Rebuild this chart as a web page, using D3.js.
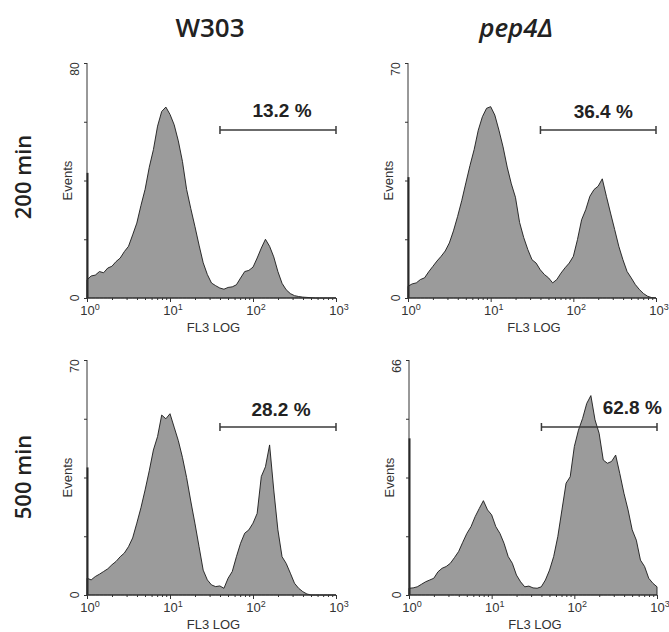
<!DOCTYPE html>
<html>
<head>
<meta charset="utf-8">
<script src="https://cdnjs.cloudflare.com/ajax/libs/d3/7.8.5/d3.min.js"></script>
<style>
  body { margin: 0; background: #fff; }
  svg { display: block; }
</style>
</head>
<body>
<svg id="chart" width="669" height="632"></svg>
<script>
// strains (columns) and times (rows)
const strains = ["W303", "pep4Δ"];
const times = ["200 min", "500 min"];

// histogram channels: 61 bins, log10 step 0.05 from 10^0 to 10^3
const channels = d3.range(61).map(i => Math.pow(10, i * 0.05));

// events per bin
const w303_200 = [6.2, 7.5, 7.8, 9.0, 8.6, 10.2, 10.8, 12.4, 13.6, 15.8, 17.6, 21.5, 25.5, 31.5, 37.0, 44.5, 50.5, 58.5, 63.5, 65.0,
  62.5, 59.0, 53.5, 46.5, 37.0, 30.5, 24.4, 18.0, 12.0, 8.0, 5.1, 4.2, 3.4, 3.0, 3.6, 3.8, 4.5, 6.8, 9.0, 9.4,
  10.5, 13.6, 17.0, 20.0, 17.6, 14.0, 9.0, 5.0, 2.8, 1.5, 0.8, 0.5, 0.3, 0.2, 0.1, 0, 0, 0, 0, 0, 0];
const pep4_200 = [3.5, 4.2, 4.5, 5.5, 6.0, 7.8, 9.4, 11.0, 12.4, 14.0, 16.4, 20.0, 24.3, 29.0, 34.3, 39.5, 44.2, 50.0, 54.0, 56.5,
  57.0, 54.5, 50.0, 45.0, 39.0, 34.0, 30.0, 22.5, 18.0, 14.4, 11.4, 10.4, 8.4, 7.0, 6.0, 4.5, 5.5, 7.4, 9.0, 10.4,
  12.4, 17.4, 23.3, 26.3, 30.3, 32.3, 33.3, 35.5, 30.3, 25.3, 20.4, 15.4, 11.4, 7.9, 6.0, 4.0, 2.5, 1.3, 0.5, 0.1, 0];
const w303_500 = [5.0, 4.5, 5.5, 6.2, 7.0, 7.8, 9.0, 10.0, 11.4, 12.5, 14.4, 17.0, 21.4, 26.0, 31.3, 37.0, 43.2, 47.2, 53.6, 52.5,
  54.0, 50.0, 46.0, 41.0, 35.0, 28.0, 21.4, 14.4, 7.4, 4.5, 3.0, 2.5, 2.7, 2.0, 5.0, 7.0, 11.4, 15.4, 18.4, 19.4,
  21.4, 24.3, 35.3, 38.2, 44.7, 31.3, 19.4, 11.4, 9.4, 6.5, 3.5, 2.0, 1.0, 0.3, 0, 0, 0, 0, 0, 0, 0];
const pep4_500 = [1.9, 2.0, 2.3, 3.0, 3.7, 4.2, 4.7, 6.5, 7.5, 8.0, 8.9, 10.5, 12.2, 14.8, 17.3, 19.2, 22.0, 24.3, 26.5, 23.9,
  22.5, 19.2, 17.3, 14.5, 10.8, 8.9, 5.6, 3.7, 2.3, 2.5, 2.0, 1.9, 2.3, 4.2, 7.0, 10.8, 16.4, 23.9, 31.4, 33.2,
  41.7, 46.3, 49.6, 53.8, 56.0, 49.2, 45.4, 37.9, 37.0, 37.5, 39.3, 34.1, 28.6, 23.9, 18.3, 15.4, 9.8, 8.0, 4.7, 3.3, 2.3];

// first-channel pile-up (events at 10^0)
const firstChannel = [42.6, 36.0, 38.0, 44.0];
// y-axis maximum printed on each panel
const yMax = [80, 70, 70, 66];
// gated fraction
const percents = [13.2, 36.4, 28.2, 62.8];
const gateFrom = 40, gateTo = 1000;
const xTicks = [1, 10, 100, 1000];
const xTickExp = ["0", "1", "2", "3"];

const series = [w303_200, pep4_200, w303_500, pep4_500];

// layout of each panel (pixel box of the plot area) and label nudges
const boxes = [
  { left: 87, right: 336, top: 63, bottom: 298, labelDx: 4, labelDy: -13 },
  { left: 408, right: 656, top: 63, bottom: 298, labelDx: 5, labelDy: -12 },
  { left: 87, right: 336, top: 360, bottom: 595, labelDx: 3, labelDy: -11 },
  { left: 409, right: 657, top: 360, bottom: 595, labelDx: 33, labelDy: -13 }
];

const svg = d3.select("#chart");
const axisCol = "#333";
const tickFont = "Liberation Sans, Arial, sans-serif";
const titleFont = "Open Sans, DejaVu Sans, sans-serif";

// column titles
svg.append("text").text(strains[0])
  .attr("x", 210).attr("y", 37)
  .attr("text-anchor", "middle")
  .attr("font-family", titleFont).attr("font-weight", 600)
  .attr("font-size", 26).attr("fill", "#222");
svg.append("text").text(strains[1])
  .attr("x", 516).attr("y", 37)
  .attr("text-anchor", "middle")
  .attr("font-family", titleFont).attr("font-weight", 600)
  .attr("font-style", "italic")
  .attr("font-size", 26).attr("fill", "#222");

// row titles
[177, 477].forEach((cy, i) => {
  svg.append("text").text(times[i])
    .attr("transform", `translate(31,${cy}) rotate(-90)`)
    .attr("text-anchor", "middle")
    .attr("font-family", titleFont).attr("font-weight", 600)
    .attr("font-size", 22).attr("fill", "#222");
});

series.forEach((vals, p) => {
  const b = boxes[p];
  const g = svg.append("g");

  const x = d3.scaleLog().domain([1, 1000]).range([b.left, b.right]);
  const y = d3.scaleLinear().domain([0, yMax[p]]).range([b.bottom, b.top]);

  const pts = channels.map((c, i) => [c, vals[i]]);

  // histogram
  g.append("path")
    .datum(pts)
    .attr("fill", "#9b9b9b")
    .attr("stroke", "#1a1a1a")
    .attr("stroke-width", 0.9)
    .attr("stroke-linejoin", "round")
    .attr("d", d3.area()
      .x(d => x(d[0]))
      .y0(y(0))
      .y1(d => y(d[1])));

  // first-channel spike
  g.append("line")
    .attr("x1", x(1) + 0.5).attr("x2", x(1) + 0.5)
    .attr("y1", y(0)).attr("y2", y(firstChannel[p]))
    .attr("stroke", "#222").attr("stroke-width", 2);

  // y axis
  const yAxis = d3.axisLeft(y)
    .tickValues(d3.range(5).map(k => yMax[p] * k / 4))
    .tickSize(3)
    .tickFormat("");
  const ya = g.append("g").attr("transform", `translate(${b.left},0)`).call(yAxis);
  ya.select(".domain").attr("stroke", axisCol).attr("d", `M0,${b.top}V${b.bottom}`);
  ya.selectAll(".tick line").attr("stroke", axisCol);

  // y end labels (rotated)
  g.append("text").text("0")
    .attr("transform", `translate(${b.left - 8},${y(0)}) rotate(-90)`)
    .attr("text-anchor", "middle")
    .attr("font-family", tickFont).attr("font-size", 12).attr("fill", axisCol);
  g.append("text").text(yMax[p])
    .attr("transform", `translate(${b.left - 8},${y(yMax[p]) + 6}) rotate(-90)`)
    .attr("text-anchor", "middle")
    .attr("font-family", tickFont).attr("font-size", 12).attr("fill", axisCol);

  // Events
  g.append("text").text("Events")
    .attr("transform", `translate(${b.left - 15},${(b.top + b.bottom) / 2}) rotate(-90)`)
    .attr("text-anchor", "middle")
    .attr("font-family", tickFont).attr("font-size", 13).attr("fill", axisCol);

  // x axis with minor log ticks
  const minor = [];
  [1, 10, 100].forEach(dec => d3.range(2, 10).forEach(k => minor.push(dec * k)));
  const xa = g.append("g").attr("transform", `translate(0,${b.bottom})`)
    .call(d3.axisBottom(x).tickValues(xTicks).tickSize(4).tickFormat(""));
  xa.select(".domain").attr("stroke", axisCol).attr("d", `M${b.left},0H${b.right}`);
  xa.selectAll(".tick line").attr("stroke", axisCol);
  const xm = g.append("g").attr("transform", `translate(0,${b.bottom})`)
    .call(d3.axisBottom(x).tickValues(minor).tickSize(2).tickFormat(""));
  xm.select(".domain").remove();
  xm.selectAll(".tick line").attr("stroke", axisCol);

  xTicks.forEach((t, i) => {
    const tx = g.append("text")
      .attr("x", x(t) + 3).attr("y", b.bottom + 17)
      .attr("text-anchor", "middle")
      .attr("font-family", tickFont).attr("font-size", 13).attr("fill", axisCol);
    tx.append("tspan").text("10");
    tx.append("tspan").text(xTickExp[i]).attr("dy", -5).attr("font-size", 9);
  });

  g.append("text").text("FL3 LOG")
    .attr("x", (b.left + b.right) / 2 + 2).attr("y", b.bottom + 34)
    .attr("text-anchor", "middle")
    .attr("font-family", tickFont).attr("font-size", 13).attr("fill", axisCol);

  // gate marker
  const gy = y(yMax[p]) + 67;
  const gx0 = x(gateFrom), gx1 = x(gateTo);
  const gate = g.append("g").attr("stroke", "#3a3a3a").attr("stroke-width", 1.5);
  gate.append("line").attr("x1", gx0).attr("x2", gx1).attr("y1", gy).attr("y2", gy);
  gate.append("line").attr("x1", gx0).attr("x2", gx0).attr("y1", gy - 4).attr("y2", gy + 4);
  gate.append("line").attr("x1", gx1).attr("x2", gx1).attr("y1", gy - 4).attr("y2", gy + 4);

  g.append("text").text(percents[p].toFixed(1) + " %")
    .attr("x", (gx0 + gx1) / 2 + b.labelDx).attr("y", gy + b.labelDy)
    .attr("text-anchor", "middle")
    .attr("font-family", tickFont).attr("font-weight", "bold")
    .attr("font-size", 19).attr("fill", "#222");
});
</script>
</body>
</html>
